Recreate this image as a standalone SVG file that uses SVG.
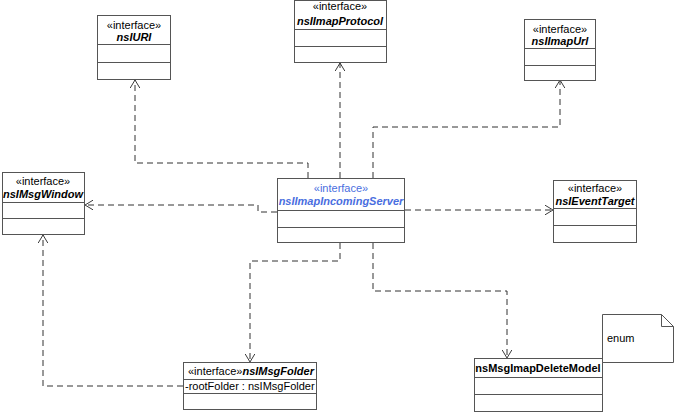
<svg xmlns="http://www.w3.org/2000/svg" width="674" height="414" viewBox="0 0 674 414">
<style>
.box{fill:#fff;stroke:#555;stroke-width:1}
.div{stroke:#555;stroke-width:1}
.st{font-family:"Liberation Sans",Arial,sans-serif;font-size:11px;fill:#000;text-anchor:middle}
.nm{font-family:"Liberation Sans",Arial,sans-serif;font-size:11px;font-weight:bold;font-style:italic;fill:#000;text-anchor:middle}
.nmb{font-family:"Liberation Sans",Arial,sans-serif;font-size:11px;font-weight:bold;fill:#000;text-anchor:middle}
.blue{fill:#4a6ee0}
.tx{font-family:"Liberation Sans",Arial,sans-serif;font-size:11px;fill:#000}
.con{fill:none;stroke:#333;stroke-width:1;stroke-dasharray:6,4;marker-end:url(#arr)}
</style>
<defs>
<marker id="arr" viewBox="0 0 10 12" refX="10" refY="6" markerWidth="8" markerHeight="10" markerUnits="userSpaceOnUse" orient="auto">
<path d="M0,0 L10,6 L0,12" fill="none" stroke="#333" stroke-width="1.2"/>
</marker>
</defs>
<rect width="674" height="414" fill="#fff"/>

<g id="connectors">
<path class="con" d="M308,178 V163 H135 V80"/>
<path class="con" d="M340,178 V63"/>
<path class="con" d="M373,178 V127 H560 V80"/>
<path class="con" d="M277,212 H258 V205 H85"/>
<path class="con" d="M405,210 H553"/>
<path class="con" d="M340,243 V261 H250 V362"/>
<path class="con" d="M373,243 V291 H507 V358"/>
<path class="con" d="M183,386 H43 V235"/>
</g>

<g id="nsIURI">
<rect class="box" x="97.5" y="15.5" width="73" height="64"/>
<line class="div" x1="97.5" y1="44.5" x2="170.5" y2="44.5"/>
<line class="div" x1="97.5" y1="62.5" x2="170.5" y2="62.5"/>
<text class="st" x="134" y="29">«interface»</text>
<text class="nm" x="134" y="41">nsIURI</text>
</g>

<g id="nsIImapProtocol">
<rect class="box" x="294.5" y="0.5" width="92" height="62"/>
<line class="div" x1="294.5" y1="29.5" x2="386.5" y2="29.5"/>
<line class="div" x1="294.5" y1="46.5" x2="386.5" y2="46.5"/>
<text class="st" x="340" y="10">«interface»</text>
<text class="nm" x="340" y="25">nsIImapProtocol</text>
</g>

<g id="nsIImapUrl">
<rect class="box" x="524.5" y="19.5" width="71" height="61"/>
<line class="div" x1="524.5" y1="48.5" x2="595.5" y2="48.5"/>
<line class="div" x1="524.5" y1="65.5" x2="595.5" y2="65.5"/>
<text class="st" x="560" y="33">«interface»</text>
<text class="nm" x="560" y="45">nsIImapUrl</text>
</g>

<g id="nsIMsgWindow">
<rect class="box" x="2.5" y="172.5" width="82" height="62"/>
<line class="div" x1="2.5" y1="202.5" x2="84.5" y2="202.5"/>
<line class="div" x1="2.5" y1="218.5" x2="84.5" y2="218.5"/>
<text class="st" x="43" y="185">«interface»</text>
<text class="nm" x="43" y="198">nsIMsgWindow</text>
</g>

<g id="nsIImapIncomingServer">
<rect class="box" x="277.5" y="178.5" width="127" height="64"/>
<line class="div" x1="277.5" y1="210.5" x2="404.5" y2="210.5"/>
<line class="div" x1="277.5" y1="227.5" x2="404.5" y2="227.5"/>
<text class="st blue" x="341" y="192">«interface»</text>
<text class="nm blue" x="341" y="205">nsIImapIncomingServer</text>
</g>

<g id="nsIEventTarget">
<rect class="box" x="553.5" y="180.5" width="83" height="62"/>
<line class="div" x1="553.5" y1="208.5" x2="636.5" y2="208.5"/>
<line class="div" x1="553.5" y1="225.5" x2="636.5" y2="225.5"/>
<text class="st" x="595" y="192">«interface»</text>
<text class="nm" x="595" y="205">nsIEventTarget</text>
</g>

<g id="nsIMsgFolder">
<rect class="box" x="183.5" y="362.5" width="133" height="47"/>
<line class="div" x1="183.5" y1="379.5" x2="316.5" y2="379.5"/>
<line class="div" x1="183.5" y1="393.5" x2="316.5" y2="393.5"/>
<text class="tx" x="188" y="375">«interface»<tspan font-weight="bold" font-style="italic">nsIMsgFolder</tspan></text>
<text class="tx" x="185" y="390">-rootFolder : nsIMsgFolder</text>
</g>

<g id="nsMsgImapDeleteModel">
<rect class="box" x="474.5" y="358.5" width="128" height="53"/>
<line class="div" x1="474.5" y1="377.5" x2="602.5" y2="377.5"/>
<line class="div" x1="474.5" y1="394.5" x2="602.5" y2="394.5"/>
<text class="nmb" x="538" y="372">nsMsgImapDeleteModel</text>
</g>

<g id="enumNote">
<path d="M602.5,314.5 H661.5 L673.5,326.5 V362.5 H602.5 Z" fill="#fff" stroke="#555"/>
<path d="M661.5,314.5 V326.5 H673.5" fill="none" stroke="#555"/>
<text class="tx" x="607" y="342">enum</text>
</g>
</svg>
